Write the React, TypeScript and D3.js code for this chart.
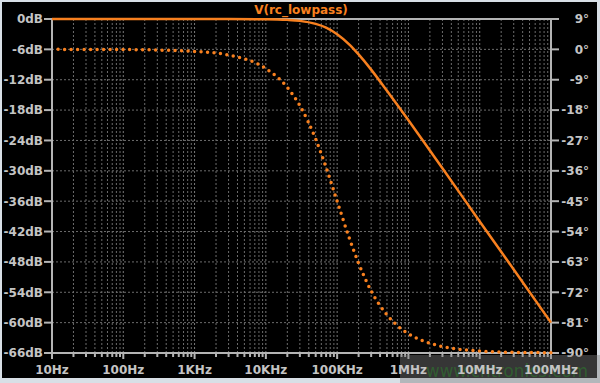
import React from "react";
import * as d3 from "d3";

const FREQS = [10, 100, 1e3, 3e3, 1e4, 2e4, 3e4, 5e4, 7e4, 1e5, 1.5e5, 2e5, 3e5, 5e5, 7e5, 1e6, 2e6, 3e6, 1e7, 3e7, 1e8];
// Magnitude trace (dB), solid line
const MAG_DB = [0, 0, 0, 0, -0.04, -0.17, -0.37, -0.97, -1.7, -3.0, -5.1, -7.0, -10.0, -14.2, -17.0, -20.0, -26.0, -29.5, -40.0, -49.5, -60.0];
// Phase trace (degrees), dotted line
const PHASE_DEG = [0, -0.06, -0.6, -1.7, -5.7, -11.3, -16.7, -26.6, -35.0, -45.0, -56.3, -63.4, -71.6, -78.7, -81.9, -84.3, -87.1, -88.1, -89.4, -89.8, -89.9];

const X_TICKS = [10, 100, 1e3, 1e4, 1e5, 1e6, 1e7, 1e8];
const X_LABELS = ["10Hz", "100Hz", "1KHz", "10KHz", "100KHz", "1MHz", "10MHz", "100MHz"];
const DB_TICKS = [0, -6, -12, -18, -24, -30, -36, -42, -48, -54, -60, -66];
const DEG_TICKS = [9, 0, -9, -18, -27, -36, -45, -54, -63, -72, -81, -90];
const TITLE = "V(rc_lowpass)";
const WATERMARK = "www.cntronics.com";

const W = 600, H = 383;
const L = 52, R = 551, T = 19, B = 353;
const ORANGE = "#f8801f";
const AXIS = "#b4b4b4";
const GRID = "#6c6c6c";
const TXT = "#c4c4c4";
const FONT = "'DejaVu Sans', Verdana, sans-serif";

export default function App() {
  const x = d3.scaleLog().domain([10, 1e8]).range([L, R]);
  const yDb = d3.scaleLinear().domain([-66, 0]).range([B, T]);
  const yDeg = d3.scaleLinear().domain([-90, 9]).range([B, T]);

  const minor: number[] = [];
  for (let dec = 10; dec < 1e8; dec *= 10) {
    for (let m = 1; m <= 9; m++) minor.push(dec * m);
  }
  const gridX = minor.concat([1e8]).filter((f) => f > 10 && f < 1e8);

  const magLine = d3
    .line<number>()
    .x((_, i) => x(FREQS[i]))
    .y((d) => yDb(d))
    .curve(d3.curveMonotoneX);
  const phaseLine = d3
    .line<number>()
    .x((_, i) => x(FREQS[i]))
    .y((d) => yDeg(d))
    .curve(d3.curveMonotoneX);

  return (
    <svg
      width={W}
      height={H}
      style={{ position: "fixed", left: 0, top: 0, display: "block" }}
      fontFamily={FONT}
    >
      <rect x={0} y={0} width={W} height={H} fill="#d8dfe6" />
      <rect x={2} y={2} width={595} height={376} fill="#000" />

      {/* grid */}
      {gridX.map((f, i) => {
        const isDec = Math.abs(Math.log10(f) - Math.round(Math.log10(f))) < 1e-9;
        return (
          <line
            key={"gx" + i}
            x1={x(f)}
            x2={x(f)}
            y1={T}
            y2={B}
            stroke={isDec ? "#7a7a7a" : GRID}
            strokeWidth={1}
            strokeDasharray="2 2"
          />
        );
      })}
      {DB_TICKS.filter((d) => d < 0 && d > -66).map((d) => (
        <line
          key={"gy" + d}
          x1={L}
          x2={R}
          y1={yDb(d)}
          y2={yDb(d)}
          stroke={GRID}
          strokeWidth={1}
          strokeDasharray="2 2"
        />
      ))}

      {/* frame */}
      <rect x={L} y={T} width={R - L} height={B - T} fill="none" stroke={AXIS} strokeWidth={2} />

      {/* left ticks + labels */}
      {DB_TICKS.map((d) => (
        <g key={"ly" + d}>
          <line x1={44} x2={L} y1={yDb(d)} y2={yDb(d)} stroke={AXIS} strokeWidth={2} />
          <text
            x={43}
            y={yDb(d)}
            dy="0.36em"
            textAnchor="end"
            fontSize={12}
            fontWeight="bold"
            fill={TXT}
          >
            {d + "dB"}
          </text>
        </g>
      ))}

      {/* right ticks + labels */}
      {DEG_TICKS.map((d) => (
        <g key={"ry" + d}>
          <line x1={R} x2={559} y1={yDeg(d)} y2={yDeg(d)} stroke={AXIS} strokeWidth={2} />
          <text
            x={589}
            y={yDeg(d)}
            dy="0.36em"
            textAnchor="end"
            fontSize={12}
            fontWeight="bold"
            fill={TXT}
          >
            {d + "°"}
          </text>
        </g>
      ))}

      {/* bottom ticks */}
      {minor.concat([1e8]).map((f, i) => {
        const isDec = Math.abs(Math.log10(f) - Math.round(Math.log10(f))) < 1e-9;
        return (
          <line
            key={"bt" + i}
            x1={x(f)}
            x2={x(f)}
            y1={B}
            y2={B + (isDec ? 6 : 4)}
            stroke={AXIS}
            strokeWidth={2}
          />
        );
      })}

      {/* traces */}
      <path d={magLine(MAG_DB) || ""} fill="none" stroke={ORANGE} strokeWidth={2.5} />
      <path
        d={phaseLine(PHASE_DEG) || ""}
        fill="none"
        stroke={ORANGE}
        strokeWidth={3.5}
        strokeLinecap="round"
        strokeDasharray="0 6.5"
        strokeDashoffset={0.4}
      />

      {/* title */}
      <text x={301} y={14} textAnchor="middle" fontSize={12} fontWeight="bold" fill={ORANGE}>
        {TITLE}
      </text>

      {/* watermark box */}
      <rect x={400} y={355} width={200} height={28} fill="#808080" fillOpacity={0.42} />
      <text
        x={426}
        y={377}
        fontSize={17}
        textLength={162}
        lengthAdjust="spacingAndGlyphs"
        fill="#2f6a2f"
        fillOpacity={0.75}
        fontFamily="'DejaVu Sans', sans-serif"
      >
        {WATERMARK}
      </text>

      {/* bottom labels */}
      {X_TICKS.map((f, i) => (
        <text
          key={"bl" + i}
          x={x(f)}
          y={374}
          textAnchor="middle"
          fontSize={12}
          fontWeight="bold"
          fill={TXT}
        >
          {X_LABELS[i]}
        </text>
      ))}
    </svg>
  );
}
